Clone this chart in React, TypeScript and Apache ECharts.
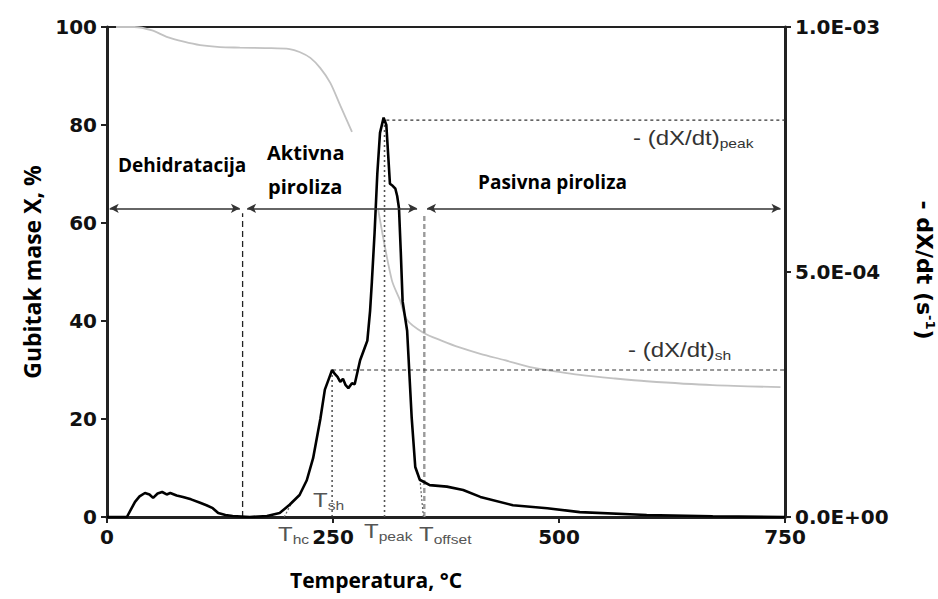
import React, { useEffect, useRef } from "react";
import * as echarts from "echarts";

// Mass loss curve (left axis, %)
const massTemps = [10, 30, 50, 66, 85, 103, 125, 147, 175, 202, 213, 225, 236, 247, 258, 271, 285, 300, 315, 324, 332, 350, 370, 390, 413, 440, 468, 500, 523, 560, 597, 670, 745];
const massLoss = [100, 100, 99.3, 98, 97, 96.3, 95.9, 95.8, 95.7, 95.5, 94.9, 93.7, 91.6, 88.6, 84, 78.6, null, 62.7, 48.4, 44.3, 40.2, 37.6, 36.0, 34.6, 33.3, 32.0, 30.6, 29.6, 29.0, 28.3, 27.7, 26.9, 26.5];

// -dX/dt curve (right axis), values in 1e-5 s^-1
const rateTemps = [0, 22, 31, 36, 42, 47, 51, 56, 61, 66, 70, 77, 84, 93, 103, 110, 117, 123, 131, 139, 158, 177, 191, 202, 213, 221, 228, 236, 241, 246, 249, 252, 255, 258, 261, 264, 267, 271, 274, 280, 285, 288, 291, 293, 296, 299, 302, 306, 309, 311, 313, 316, 319, 321, 323, 325, 327, 332, 337, 341, 346, 357, 376, 394, 413, 449, 487, 523, 597, 670, 750];
const rateE5 = [0, 0, 3.1, 4.2, 4.9, 4.6, 3.9, 4.8, 5.1, 4.6, 4.9, 4.4, 4.1, 3.6, 2.9, 2.4, 1.8, 0.8, 0.4, 0.2, 0, 0.2, 0.8, 2.5, 4.5, 7.5, 12, 20, 26, 28.5, 30, 29.2, 28.6, 27.6, 28.2, 26.9, 26.3, 27.3, 27.1, 32, 34.5, 36, 42, 48, 58, 70, 78.4, 81.5, 80, 74, 68, 67.6, 67, 65.5, 63, 54, 44, 38, 20.4, 10.2, 7.6, 6.5, 6.2, 5.5, 4.1, 2.4, 1.8, 1.0, 0.4, 0.15, 0];

const xTicks = { min: 0, max: 750, step: 250 };
const leftTicks = { min: 0, max: 100, step: 20 };
const rightTicks = { min: 0, max: 0.001, step: 0.0005 };

// Annotations
const phaseArrowY = 63;
const phaseSegments = [[3, 147], [155, 343], [354, 745]];
const tBoundary = 150;
const tHc = 196;
const tSh = 249;
const shRateE5 = 30;
const tPeak = 307;
const peakRateE5 = 81.5;
const tOffset = 351;

const OPEN = "'Open Sans', sans-serif";
const ARIAL = "'Liberation Sans', Arial, sans-serif";
const DJ = "'DejaVu Sans', sans-serif";

function expLabel(v: number): string {
  if (v === 0) return "0.0E+00";
  const [m, e] = v.toExponential(1).split("e");
  const n = parseInt(e, 10);
  return m + "E" + (n < 0 ? "-" : "+") + String(Math.abs(n)).padStart(2, "0");
}

function subLabel(main: string, sub: string, x: number, y: number, size: number, subSize: number, color: string) {
  return {
    type: "text",
    x,
    y,
    z: 100,
    scaleX: 1.2,
    style: {
      text: `{m|${main}}{s|${sub}}`,
      verticalAlign: "middle",
      align: "left",
      rich: {
        m: { fontFamily: ARIAL, fontSize: size, fill: color, color, lineHeight: size + 4 },
        s: { fontFamily: ARIAL, fontSize: subSize, fill: color, color, verticalAlign: "bottom", lineHeight: subSize + 1 },
      },
    },
  };
}

export default function App() {
  const ref = useRef<HTMLDivElement>(null);
  useEffect(() => {
    if (!ref.current) return;
    const chart = echarts.init(ref.current, undefined, { renderer: "svg" });
    const e5 = (v: number) => v * 1e-5;
    const lineSeries = (data: any[], yAxisIndex: number, color: string, width: number, type: any) => ({
      type: "line",
      xAxisIndex: 0,
      yAxisIndex,
      data,
      showSymbol: false,
      symbol: "none",
      silent: true,
      z: 3,
      lineStyle: { color, width, type },
    });
    const tickLabel = { fontFamily: DJ, fontWeight: "bold", fontSize: 20, color: "#111", margin: 10 };
    const option: any = {
      animation: false,
      backgroundColor: "#fff",
      grid: { left: 107, right: 153, top: 27, bottom: 82, show: true, borderColor: "#222", borderWidth: 2 },
      xAxis: {
        type: "value",
        min: xTicks.min,
        max: xTicks.max,
        interval: xTicks.step,
        axisLine: { show: true, onZero: false, lineStyle: { color: "#222", width: 3 } },
        axisTick: { show: true, length: 6, lineStyle: { color: "#222", width: 2 } },
        axisLabel: tickLabel,
        splitLine: { show: false },
      },
      yAxis: [
        {
          type: "value",
          position: "left",
          min: leftTicks.min,
          max: leftTicks.max,
          interval: leftTicks.step,
          axisLine: { show: true, onZero: false, lineStyle: { color: "#222", width: 3 } },
          axisTick: { show: true, length: 6, lineStyle: { color: "#222", width: 2 } },
          axisLabel: tickLabel,
          splitLine: { show: false },
        },
        {
          type: "value",
          position: "right",
          min: rightTicks.min,
          max: rightTicks.max,
          interval: rightTicks.step,
          axisLine: { show: true, onZero: false, lineStyle: { color: "#222", width: 3 } },
          axisTick: { show: true, length: 6, lineStyle: { color: "#222", width: 2 } },
          axisLabel: { ...tickLabel, formatter: expLabel },
          splitLine: { show: false },
        },
      ],
      series: [
        {
          type: "line",
          name: "X",
          yAxisIndex: 0,
          data: massTemps.map((t, i) => [t, massLoss[i]]),
          showSymbol: false,
          symbol: "none",
          smooth: 0.3,
          connectNulls: false,
          lineStyle: { color: "#c2c2c2", width: 1.8 },
          z: 2,
        },
        {
          type: "line",
          name: "-dX/dt",
          yAxisIndex: 1,
          data: rateTemps.map((t, i) => [t, e5(rateE5[i])]),
          showSymbol: false,
          symbol: "none",
          lineStyle: { color: "#000", width: 2.6 },
          z: 4,
        },
        // phase boundary
        lineSeries([[tBoundary, 0], [tBoundary, phaseArrowY - 1]], 0, "#222", 1.3, [6, 4]),
        // T_offset boundary
        lineSeries([[tOffset, 0], [tOffset, phaseArrowY - 1]], 0, "#9a9a9a", 2.4, [5, 3]),
        // shoulder
        lineSeries([[tSh, 0], [tSh, e5(shRateE5)]], 1, "#333", 1.3, [2, 3]),
        lineSeries([[tSh, e5(shRateE5)], [750, e5(shRateE5)]], 1, "#333", 1.2, [4, 3]),
        // peak
        lineSeries([[tPeak, 0], [tPeak, e5(peakRateE5)]], 1, "#555", 1.6, [2, 3]),
        lineSeries([[tPeak + 2, e5(peakRateE5 - 0.5)], [750, e5(peakRateE5 - 0.5)]], 1, "#333", 1.2, [3, 3]),
        // tangents
        lineSeries([[tHc, 0], [tHc + 10, e5(3.5)]], 1, "#666", 1.2, [2, 2]),
        lineSeries([[tOffset - 1, 0], [tOffset - 5, e5(8)]], 1, "#666", 1.2, [2, 2]),
        {
          type: "line",
          name: "phases",
          yAxisIndex: 0,
          data: [],
          silent: true,
          markLine: {
            silent: true,
            symbol: ["arrow", "arrow"],
            symbolSize: [7, 9],
            label: { show: false },
            lineStyle: { color: "#333", width: 1.5, type: "solid" },
            data: phaseSegments.map(([a, b]) => [{ coord: [a, phaseArrowY] }, { coord: [b, phaseArrowY] }]),
          },
        },
      ],
      graphic: [
        {
          type: "text", x: 116, y: 165, z: 100,
          style: { text: "Dehidratacija", fontFamily: OPEN, fontWeight: "bold", fontSize: 19, fill: "#000", align: "left", verticalAlign: "middle", backgroundColor: "#fff", padding: [8, 2] },
        },
        {
          type: "text", x: 267, y: 152, z: 100,
          style: { text: "Aktivna", fontFamily: OPEN, fontWeight: "bold", fontSize: 20, fill: "#000", align: "left", verticalAlign: "middle" },
        },
        {
          type: "text", x: 268, y: 186, z: 100,
          style: { text: "piroliza", fontFamily: OPEN, fontWeight: "bold", fontSize: 20, fill: "#000", align: "left", verticalAlign: "middle" },
        },
        {
          type: "text", x: 478, y: 182, z: 100,
          style: { text: "Pasivna piroliza", fontFamily: OPEN, fontWeight: "bold", fontSize: 19, fill: "#000", align: "left", verticalAlign: "middle" },
        },
        subLabel("- (dX/dt)", "peak", 633, 138, 20, 13, "#333"),
        subLabel("- (dX/dt)", "sh", 628, 350, 20, 13, "#333"),
        subLabel("T", "sh", 313, 500, 20, 13, "#555"),
        subLabel("T", "hc", 278, 534, 20, 13, "#555"),
        subLabel("T", "peak", 364, 531, 20, 13, "#555"),
        subLabel("T", "offset", 419, 534, 20, 13, "#555"),
        {
          type: "text", x: 376, y: 580, z: 100,
          style: { text: "Temperatura, °C", fontFamily: OPEN, fontWeight: "bold", fontSize: 21, fill: "#000", align: "center", verticalAlign: "middle" },
        },
        {
          type: "text", x: 32, y: 272, z: 100, rotation: Math.PI / 2,
          style: { text: "Gubitak mase X, %", fontFamily: OPEN, fontWeight: "bold", fontSize: 23, fill: "#000", align: "center", verticalAlign: "middle" },
        },
        {
          type: "text", x: 924, y: 270, z: 100, rotation: -Math.PI / 2,
          style: {
            text: "{m|- dX/dt (s}{p|-1}{m|)}",
            align: "center",
            verticalAlign: "middle",
            rich: {
              m: { fontFamily: DJ, fontWeight: "bold", fontSize: 22, fill: "#000", color: "#000", lineHeight: 26 },
              p: { fontFamily: DJ, fontWeight: "bold", fontSize: 13, fill: "#000", color: "#000", verticalAlign: "top", lineHeight: 14 },
            },
          },
        },
      ],
    };
    chart.setOption(option);
    return () => chart.dispose();
  }, []);
  return <div ref={ref} style={{ position: "fixed", left: 0, top: 0, width: 938, height: 599 }} />;
}
